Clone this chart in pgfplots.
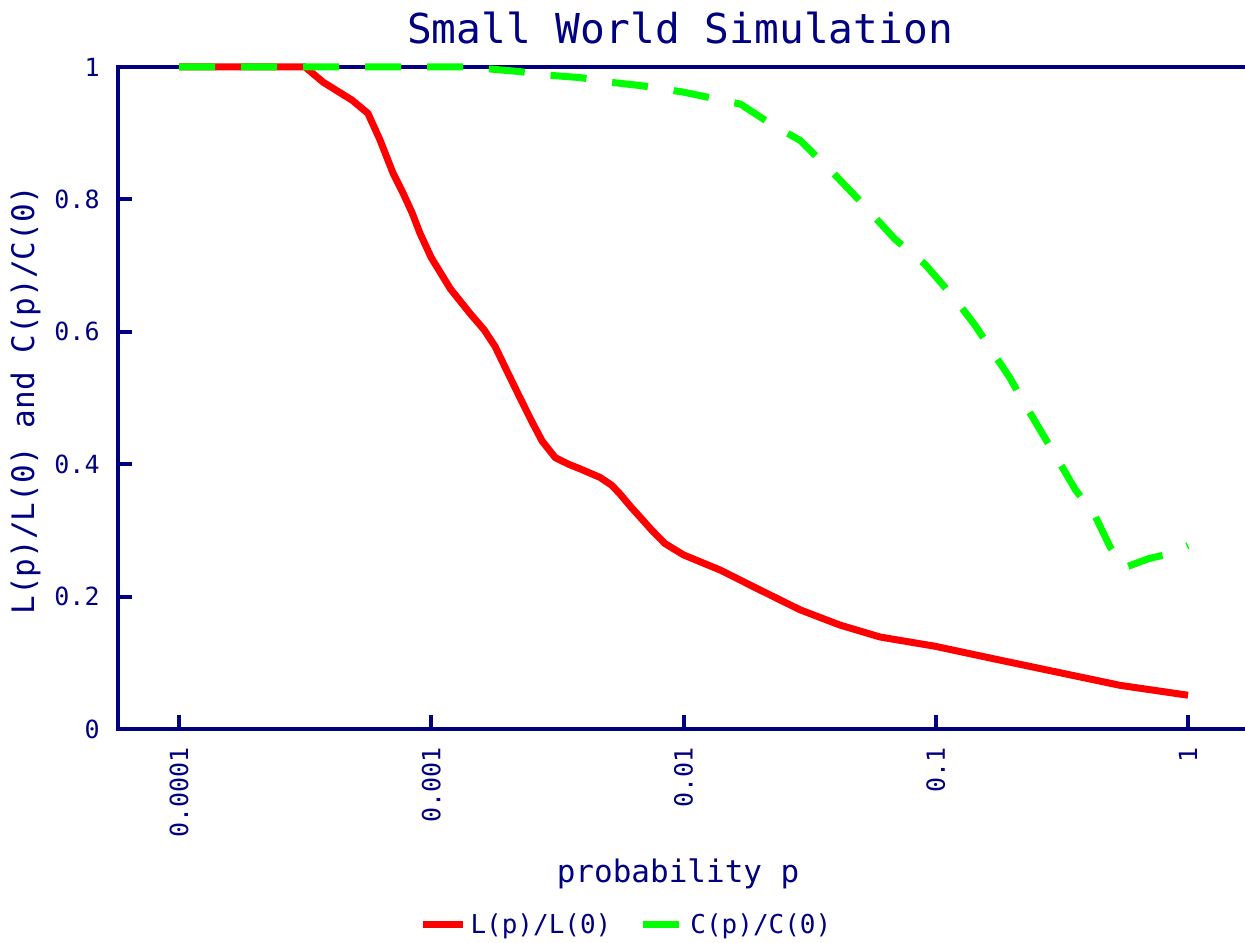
\documentclass[border=0pt]{standalone}
\usepackage{fontspec}
\setmainfont{DejaVu Sans Mono}
\setmonofont{DejaVu Sans Mono}
\usepackage{pgfplots}
\pgfplotsset{compat=1.18}
\definecolor{navy}{HTML}{000080}
\definecolor{gpred}{HTML}{FF0000}
\definecolor{gpgreen}{HTML}{00FF00}
\begin{document}
\begin{tikzpicture}
\begin{axis}[
  scale only axis, width=563.5pt, height=331pt,
  xmode=log, xmin=5.73e-5, xmax=1.682, ymin=0, ymax=1,
  clip=false,
  axis line style={draw=none},
  tick align=inside, xtick pos=left, ytick pos=left,
  xminorticks=false, yminorticks=false,
  major tick length=7pt,
  every tick/.style={navy, line width=2pt},
  xtick={1e-4,1e-3,1e-2,1e-1,1},
  xticklabels={0.0001,0.001,0.01,0.1,1},
  ytick={0,0.2,0.4,0.6,0.8,1},
  yticklabels={0,0.2,0.4,0.6,0.8,1},
  xticklabel style={rotate=90, anchor=east, inner sep=0pt, font=\fontsize{12.5}{14}\selectfont, text=navy},
  yticklabel style={anchor=east, inner sep=0pt, font=\fontsize{12.5}{14}\selectfont, text=navy},
  xticklabel shift=9pt, yticklabel shift=9pt,
  title={Small World Simulation},
  title style={at={(axis description cs:0.4987,1.0181)}, anchor=base, inner sep=0pt, font=\fontsize{20.6}{24}\selectfont, text=navy},
  xlabel={probability p},
  xlabel style={at={(axis description cs:0.497,-0.2326)}, anchor=base, inner sep=0pt, font=\fontsize{15.5}{18}\selectfont, text=navy},
  ylabel={L(p)/L(0) and C(p)/C(0)},
  ylabel style={at={(axis description cs:-0.0745,0.497)}, rotate=0, anchor=base, inner sep=0pt, font=\fontsize{15.5}{18}\selectfont, text=navy},
  legend columns=2,
  legend style={at={(axis description cs:0.452,-0.296)}, anchor=center, draw=none, fill=none, inner sep=0pt,
    font=\fontsize{13}{15}\selectfont, text=navy,
    /tikz/every even column/.append style={column sep=12pt}},
]
\coordinate (O) at (rel axis cs:0,0);
\draw[navy, line width=2pt] (rel axis cs:1,1) -- (rel axis cs:0,1) -- (rel axis cs:0,0) -- (rel axis cs:1,0);
\addplot[gpred, line width=3.5pt, line join=round,
  legend image code/.code={\draw[gpred, solid, line width=3.5pt] (0pt,0pt) -- (20pt,0pt);}]
coordinates {
(1e-4,1.0) (2e-4,1.0) (3.16e-4,1.0) (3.73e-4,0.977) (4.85e-4,0.95) (5.61e-4,0.93)
(6.26e-4,0.89) (7.05e-4,0.84) (7.72e-4,0.81) (8.39e-4,0.78) (9.02e-4,0.749)
(1.0e-3,0.712) (1.19e-3,0.665) (1.43e-3,0.627) (1.62e-3,0.603) (1.79e-3,0.578)
(2.0e-3,0.54) (2.25e-3,0.50) (2.50e-3,0.465) (2.75e-3,0.435) (3.10e-3,0.41)
(3.50e-3,0.40) (3.89e-3,0.393) (4.67e-3,0.38) (5.20e-3,0.368) (5.60e-3,0.355)
(6.2e-3,0.335) (6.73e-3,0.32) (7.5e-3,0.30) (8.45e-3,0.28) (1.0e-2,0.263)
(1.40e-2,0.24) (2.01e-2,0.21) (2.90e-2,0.18) (4.17e-2,0.157) (6.01e-2,0.139)
(0.0993,0.125) (0.180,0.104) (0.311,0.085) (0.537,0.066) (1.0,0.051)
};
\addlegendentry{L(p)/L(0)}
\addplot[gpgreen, line width=3.5pt, dash pattern=on 18pt off 13pt,
  legend image code/.code={\draw[gpgreen, solid, line width=3.5pt] (0pt,0pt) -- (12.5pt,0pt); \path (0pt,0pt) -- (20pt,0pt);}]
coordinates {
(1e-4,1.0) (1.43e-3,1.0) (1.71e-3,0.997) (2.25e-3,0.993) (2.82e-3,0.988)
(3.89e-3,0.984) (5.12e-3,0.977) (6.73e-3,0.972) (1.0e-2,0.962) (1.26e-2,0.954)
(1.68e-2,0.944) (2.20e-2,0.915) (2.90e-2,0.889) (3.92e-2,0.840) (4.88e-2,0.802)
(6.89e-2,0.740) (9.06e-2,0.702) (0.119,0.650) (0.143,0.610) (0.197,0.530)
(0.226,0.490) (0.259,0.452) (0.297,0.414) (0.357,0.362) (0.428,0.322)
(0.491,0.275) (0.562,0.244) (0.694,0.257) (0.849,0.265) (1.0,0.277)
};
\addlegendentry{C(p)/C(0)}
\end{axis}
\pgfresetboundingbox
\path[use as bounding box] ([shift={(-59pt,-106.5pt)}]O) rectangle ([shift={(563.5pt,364.5pt)}]O);
\end{tikzpicture}
\end{document}
